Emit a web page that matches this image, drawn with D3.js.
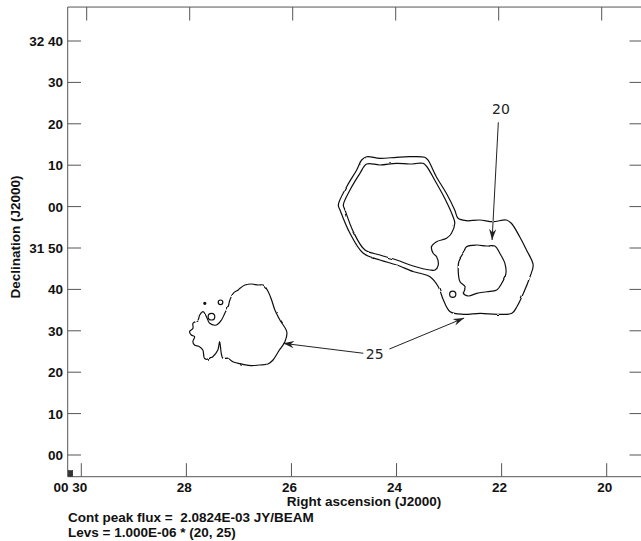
<!DOCTYPE html>
<html><head><meta charset="utf-8">
<script src="https://cdn.jsdelivr.net/npm/d3@7/dist/d3.min.js"></script>
<style>
html,body{margin:0;padding:0;background:#fff;}
svg{display:block;}
.lab{font-family:"Liberation Sans",Arial,Helvetica,sans-serif;font-weight:bold;font-size:13.5px;fill:#111;white-space:pre;}
.ann{font-family:"DejaVu Sans",Verdana,sans-serif;font-size:14px;fill:#222;}
</style>
</head><body>
<script>
// ---- axis ticks (RA in minutes of time at 00h, Dec in arcmin above +31°00') ----
const raTicks = [30, 28, 26, 24, 22, 20];
const raTickLabels = ["00 30", "28", "26", "24", "22", "20"];
const decTicks = [0, 10, 20, 30, 40, 50, 60, 70, 80, 90, 100];
const decTickLabels = ["00", "10", "20", "30", "40", "31 50", "00", "10", "20", "30", "32 40"];

// ---- contours: [RA (min), Dec (arcmin above 31°00')] ----
const outerContour = [
  [24.662,71.26],[24.566,72.05],[24.311,71.67],[23.990,71.91],[23.735,72.05],[23.447,71.91],
  [23.384,71.26],[23.223,67.22],[23.031,63.21],[22.871,59.18],[22.808,57.17],[22.647,56.59],
  [22.392,56.76],[22.136,56.35],[21.879,56.76],[21.783,55.97],[21.624,52.73],[21.495,49.52],
  [21.369,45.89],[21.432,43.07],[21.560,39.06],[21.687,35.82],[21.783,34.23],[22.071,33.99],
  [22.392,34.23],[22.712,33.99],[22.967,34.61],[23.096,37.44],[23.192,40.65],[23.351,43.07],
  [23.543,43.89],[23.678,44.32],[23.990,45.89],[24.311,47.10],[24.631,48.72],[24.887,53.55],
  [25.079,59.18],[25.111,60.39],[24.950,64.81],[24.758,68.84]
];
const innerHexContour = [
  [24.566,70.29],[24.311,70.05],[23.990,70.46],[23.735,70.29],[23.480,70.46],[23.415,69.81],
  [23.255,66.43],[23.063,62.00],[22.904,57.56],[22.871,55.97],[22.935,53.55],[23.031,52.34],
  [23.223,51.52],[23.319,50.31],[23.288,48.72],[23.223,47.90],[23.192,45.89],[23.255,44.69],
  [23.351,44.69],[23.672,45.65],[23.990,47.10],[24.311,48.31],[24.599,49.52],[24.823,53.94],
  [24.983,59.18],[25.015,60.39],[24.887,64.01],[24.695,68.04]
];
const innerBlobContour = [
  [22.647,50.31],[22.455,50.72],[22.263,50.48],[22.104,50.48],[22.008,48.72],[21.912,46.30],
  [21.893,43.89],[21.975,41.47],[22.071,39.86],[22.263,39.44],[22.455,39.06],[22.616,38.41],
  [22.712,39.06],[22.679,40.65],[22.775,41.86],[22.808,44.28],[22.789,47.10],[22.712,48.72]
];
const leftContour = [
  [26.998,40.27],[26.902,41.06],[26.774,41.30],[26.647,41.06],[26.551,41.06],[26.455,39.44],
  [26.390,37.44],[26.326,35.02],[26.230,32.61],[26.096,29.71],[26.134,27.29],[26.250,25.12],
  [26.359,22.95],[26.455,21.98],[26.614,21.74],[26.774,21.57],[26.935,21.91],[27.127,22.54],
  [27.223,23.36],[27.319,23.36],[27.349,24.57],[27.382,27.37],[27.415,25.36],[27.511,23.74],
  [27.607,23.12],[27.670,23.36],[27.702,25.36],[27.766,26.16],[27.862,26.57],[27.894,27.37],
  [27.862,28.57],[27.925,28.99],[27.958,29.78],[27.894,30.60],[27.894,31.81],[27.798,32.61],
  [27.766,33.82],[27.702,34.61],[27.637,33.41],[27.574,31.81],[27.445,31.40],[27.349,32.61],
  [27.286,34.23],[27.223,35.82],[27.190,37.44],[27.127,39.06],[27.031,39.86]
];
// small closed islands: [RA, Dec, radius (arcmin)]
const islands = [
  [22.916, 38.82, 0.75],
  [27.541, 33.41, 0.80],
  [27.369, 36.88, 0.56],
  [27.670, 36.64, 0.25]
];
// annotations: label, label position, arrow tips
const annLabels = ["25", "20"];
const annLabelPos = [[24.413, 23.19], [21.969, 82.37]];
const annArrows = [
  [[24.631, 24.57], [26.167, 26.98]],
  [[24.132, 25.60], [22.699, 33.09]],
  [[22.021, 80.36], [22.155, 51.93]]
];
const footLines = ["Cont peak flux =  2.0824E-03 JY/BEAM", "Levs = 1.000E-06 * (20, 25)"];

// ---- scales ----
const W = 641, H = 541;
const decMin = -5.24, decMax = 108.2;
const yScale = d3.scaleLinear().domain([0, 100]).range([455, 41]);
const xBottom = d3.scaleLinear().domain([30, 20]).range([81.3, 606.7]);
const xTop = d3.scaleLinear().domain([30, 20]).range([86.7, 601.7]);
const tScale = d3.scaleLinear().domain([decMin, decMax]).range([0, 1]);
function px(ra, dec) { const t = tScale(dec); return xBottom(ra) * (1 - t) + xTop(ra) * t; }
function py(dec) { return yScale(dec); }

const pL = 67.7, pR = 642, pT = yScale(decMax), pB = yScale(decMin);

const svg = d3.select("body").append("svg").attr("width", W).attr("height", H);
const defs = svg.append("defs");
defs.append("marker")
  .attr("id", "ah").attr("viewBox", "-12 -5 14 10").attr("refX", 0).attr("refY", 0)
  .attr("markerWidth", 14).attr("markerHeight", 10).attr("markerUnits", "userSpaceOnUse")
  .attr("orient", "auto")
  .append("path").attr("d", "M0,0 L-11,-3.6 L-7.5,0 L-11,3.6 Z").attr("fill", "#222");
// slight roughness like a plotted noisy contour
const f = defs.append("filter").attr("id", "rough").attr("x", "-5%").attr("y", "-5%").attr("width", "110%").attr("height", "110%");
f.append("feTurbulence").attr("type", "fractalNoise").attr("baseFrequency", 0.16).attr("numOctaves", 1).attr("seed", 3).attr("result", "n");
f.append("feDisplacementMap").attr("in", "SourceGraphic").attr("in2", "n").attr("scale", 2.2)
  .attr("xChannelSelector", "R").attr("yChannelSelector", "G");

// frame
const axisCol = "#555";
svg.append("path")
  .attr("d", `M${pR},${pT} H${pL} V${pB} H${pR}`)
  .attr("fill", "none").attr("stroke", axisCol).attr("stroke-width", 1);

// ticks
const tk = svg.append("g").attr("stroke", axisCol).attr("stroke-width", 1);
decTicks.forEach(d => {
  tk.append("line").attr("x1", pL).attr("x2", pL + 13.3).attr("y1", py(d)).attr("y2", py(d));
  tk.append("line").attr("x1", pR - 12.5).attr("x2", pR).attr("y1", py(d)).attr("y2", py(d));
});
raTicks.forEach(r => {
  tk.append("line").attr("x1", px(r, decMin)).attr("x2", px(r, decMin)).attr("y1", pB).attr("y2", pB - 13.5);
  tk.append("line").attr("x1", px(r, decMax)).attr("x2", px(r, decMax)).attr("y1", pT).attr("y2", pT + 13.5);
});

// tick labels
decTicks.forEach((d, i) => {
  svg.append("text").attr("class", "lab").attr("x", 63).attr("y", py(d) + 5)
    .attr("text-anchor", "end").text(decTickLabels[i]);
});
raTicks.forEach((r, i) => {
  const x = px(r, decMin);
  svg.append("text").attr("class", "lab").attr("x", i === 0 ? x - 11 : x - 2).attr("y", 492)
    .attr("text-anchor", "middle").text(raTickLabels[i]);
});
svg.append("text").attr("class", "lab").attr("x", 364).attr("y", 506)
  .attr("text-anchor", "middle").text("Right ascension (J2000)");
svg.append("text").attr("class", "lab").attr("transform", "translate(19.5,237) rotate(-90)")
  .attr("text-anchor", "middle").text("Declination (J2000)");
footLines.forEach((t, i) => {
  svg.append("text").attr("class", "lab").attr("x", 68).attr("y", 522 + i * 15).text(t);
});

// beam
svg.append("rect").attr("x", pL + 0.5).attr("y", pB - 6).attr("width", 4.5).attr("height", 5.5)
  .attr("fill", "#333").attr("stroke", "#222").attr("stroke-width", 0.6);

// contours
const line = d3.line().x(d => px(d[0], d[1])).y(d => py(d[1])).curve(d3.curveCatmullRomClosed.alpha(0.5));
const cg = svg.append("g").attr("fill", "none").attr("stroke", "#111").attr("stroke-width", 1.2)
  .attr("filter", "url(#rough)");
[outerContour, innerHexContour, innerBlobContour, leftContour].forEach(c => {
  cg.append("path").attr("d", line(c));
});
const ig = svg.append("g").attr("fill", "none").attr("stroke", "#111").attr("stroke-width", 1.2);
islands.forEach(d => {
  const cx = px(d[0], d[1]), cy = py(d[1]);
  const r = py(0) - py(d[2]);
  ig.append("circle").attr("cx", cx).attr("cy", cy).attr("r", r)
    .attr("fill", d[2] < 0.3 ? "#111" : "none");
});

// annotations
annLabels.forEach((t, i) => {
  svg.append("text").attr("class", "ann").attr("x", px(annLabelPos[i][0], annLabelPos[i][1]))
    .attr("y", py(annLabelPos[i][1])).attr("text-anchor", "middle").text(t);
});
annArrows.forEach(a => {
  svg.append("line")
    .attr("x1", px(a[0][0], a[0][1])).attr("y1", py(a[0][1]))
    .attr("x2", px(a[1][0], a[1][1])).attr("y2", py(a[1][1]))
    .attr("stroke", "#222").attr("stroke-width", 1).attr("marker-end", "url(#ah)");
});
</script>
</body></html>
